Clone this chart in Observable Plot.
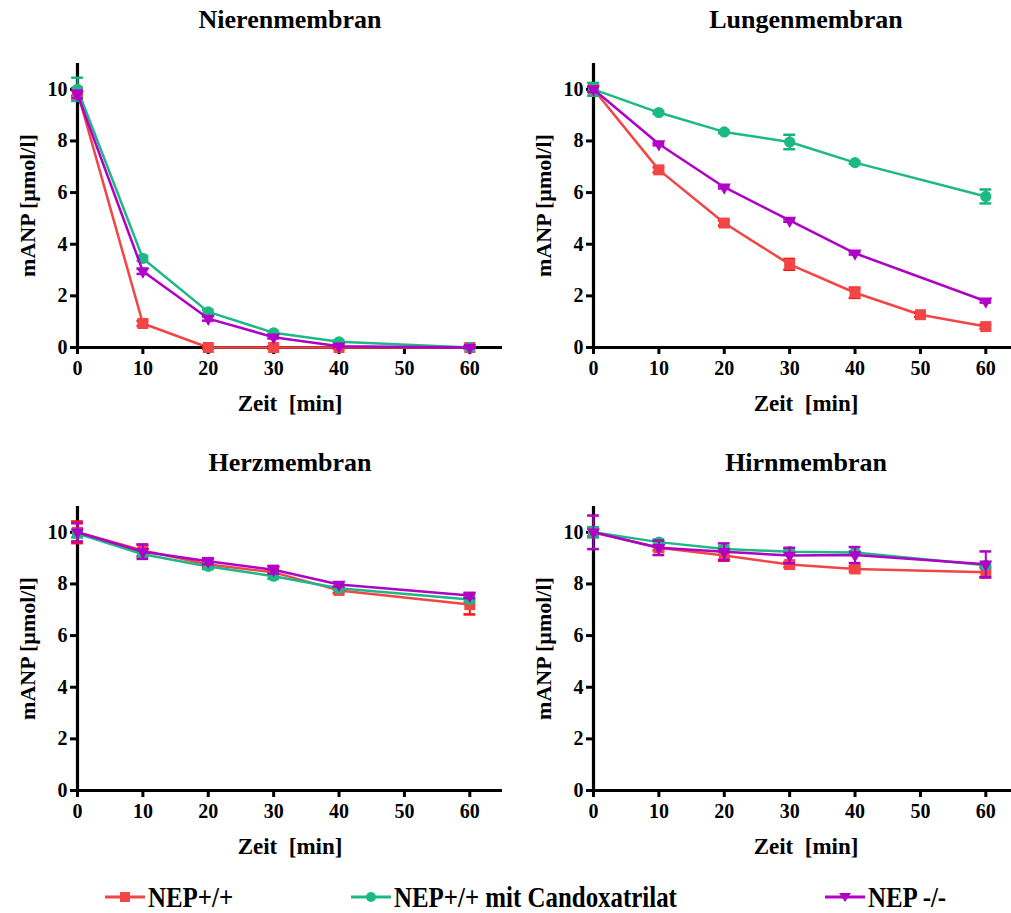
<!DOCTYPE html>
<html>
<head>
<meta charset="utf-8">
<script src="https://cdn.jsdelivr.net/npm/d3@7"></script>
<script src="https://cdn.jsdelivr.net/npm/@observablehq/plot@0.6"></script>
<style>
  body { margin: 0; background: white; overflow: hidden; }
  #root { position: relative; width: 1011px; height: 913px; overflow: hidden; background: white; }
  .panel { position: absolute; width: 505px; height: 430px; }
  .panel svg { max-width: none !important; width: 505px !important; height: 430px !important; }
  .legend { position: absolute; top: 882px; left: 0; width: 1011px; height: 30px;
            font-family: "Liberation Serif", serif; font-weight: bold; font-size: 30px; line-height: 30px; color: black; }
  .item { position: absolute; top: 0; display: flex; align-items: center; height: 30px; }
  .item svg { margin-right: 3px; flex: none; }
  .item span { display: inline-block; transform: scaleX(0.83); transform-origin: left center; white-space: nowrap; }
</style>
</head>
<body>
<div id="root"></div>
<script>
// ---------- data ----------
const times = [0, 10, 20, 30, 40, 50, 60];
const seriesNames = ["NEP+/+", "NEP+/+ mit Candoxatrilat", "NEP -/-"];
const seriesColors = ["#f24545", "#1db985", "#b000c6"];
const capColors = ["#ff1010", "#14b47c", "#b000c6"];
const seriesSymbols = ["square", "circle", "triangle"];
const panelTitles = ["Nierenmembran", "Lungenmembran", "Herzmembran", "Hirnmembran"];
const xTicks = [0, 10, 20, 30, 40, 50, 60];
const yTicks = [0, 2, 4, 6, 8, 10];
const xLabel = "Zeit  [min]";
const yLabel = "mANP [µmol/l]";

// Nierenmembran
const niereWT      = [9.9, 0.93, 0.0, 0.0, 0.0, null, 0.0];
const niereWTErr   = [0.15, 0.1, 0.05, 0.05, 0.05, null, 0.05];
const niereCand    = [10.0, 3.45, 1.38, 0.57, 0.22, null, 0.0];
const niereCandErr = [0.45, 0.1, 0.08, 0.05, 0.05, null, 0.02];
const niereKO      = [9.8, 2.95, 1.12, 0.4, 0.05, null, 0.0];
const niereKOErr   = [0.15, 0.1, 0.08, 0.05, 0.03, null, 0.02];

// Lungenmembran
const lungeWT      = [10.0, 6.88, 4.82, 3.22, 2.12, 1.27, 0.81];
const lungeWTErr   = [0.1, 0.1, 0.1, 0.21, 0.2, 0.08, 0.08];
const lungeCand    = [10.0, 9.1, 8.35, 7.96, 7.16, null, 5.85];
const lungeCandErr = [0.25, 0.05, 0.05, 0.28, 0.05, null, 0.27];
const lungeKO      = [10.0, 7.88, 6.21, 4.92, 3.65, null, 1.79];
const lungeKOErr   = [0.1, 0.05, 0.05, 0.05, 0.05, null, 0.05];

// Herzmembran
const herzWT      = [10.0, 9.3, 8.75, 8.45, 7.75, null, 7.2];
const herzWTErr   = [0.42, 0.22, 0.1, 0.1, 0.1, null, 0.38];
const herzCand    = [9.95, 9.15, 8.68, 8.3, 7.83, null, 7.4];
const herzCandErr = [0.15, 0.1, 0.1, 0.1, 0.05, null, 0.1];
const herzKO      = [10.0, 9.25, 8.88, 8.55, 7.98, null, 7.55];
const herzKOErr   = [0.35, 0.28, 0.12, 0.15, 0.08, null, 0.1];

// Hirnmembran
const hirnWT      = [10.0, 9.4, 9.1, 8.75, 8.58, null, 8.45];
const hirnWTErr   = [0.15, 0.1, 0.2, 0.1, 0.1, null, 0.2];
const hirnCand    = [10.0, 9.62, 9.35, 9.25, 9.22, null, 8.72];
const hirnCandErr = [0.2, 0.1, 0.1, 0.1, 0.05, null, 0.1];
const hirnKO      = [10.0, 9.4, 9.25, 9.1, 9.12, null, 8.76];
const hirnKOErr   = [0.65, 0.28, 0.32, 0.3, 0.31, null, 0.5];

const panelData = [
  [[niereWT, niereWTErr], [niereCand, niereCandErr], [niereKO, niereKOErr]],
  [[lungeWT, lungeWTErr], [lungeCand, lungeCandErr], [lungeKO, lungeKOErr]],
  [[herzWT, herzWTErr], [herzCand, herzCandErr], [herzKO, herzKOErr]],
  [[hirnWT, hirnWTErr], [hirnCand, hirnCandErr], [hirnKO, hirnKOErr]]
];

const panelPos = [[0, 0], [516, 0], [0, 443], [516, 443]];

// ---------- drawing ----------
const root = document.getElementById("root");
const font = "Liberation Serif";

panelTitles.forEach((title, p) => {
  const marks = [];
  // axis lines and tick marks
  marks.push(Plot.ruleY([0], {x1: 0, x2: 65, stroke: "black", strokeWidth: 3.2}));
  marks.push(Plot.ruleX([0], {y1: 0, y2: 11, stroke: "black", strokeWidth: 3.2}));
  marks.push(Plot.axisX(xTicks, {tickSize: 7, strokeWidth: 3, tickFormat: () => "", label: null}));
  marks.push(Plot.axisY(yTicks, {tickSize: 7, strokeWidth: 3, tickFormat: () => "", label: null}));
  // tick labels
  marks.push(Plot.text(xTicks, {x: d => d, frameAnchor: "bottom", lineAnchor: "middle", textAnchor: "middle",
    dy: 21, fontSize: 20, fontWeight: "bold", fontFamily: font, fill: "black"}));
  marks.push(Plot.text(yTicks, {y: d => d, frameAnchor: "left", lineAnchor: "middle", textAnchor: "end",
    dx: -10, fontSize: 20, fontWeight: "bold", fontFamily: font, fill: "black"}));

  seriesNames.forEach((name, s) => {
    const [vals, errs] = panelData[p][s];
    const rows = times.map((t, i) => ({t, v: vals[i], e: errs[i], series: name}))
      .filter(d => d.v != null);
    marks.push(Plot.line(rows, {x: "t", y: "v", stroke: seriesColors[s], strokeWidth: 2.5}));
    marks.push(Plot.ruleX(rows, {x: "t", y1: d => d.v - d.e, y2: d => d.v + d.e,
      stroke: capColors[s], strokeWidth: 2}));
    marks.push(Plot.ruleY(rows, {y: d => d.v + d.e, x1: d => d.t - 0.9, x2: d => d.t + 0.9,
      stroke: capColors[s], strokeWidth: 2.5}));
    marks.push(Plot.ruleY(rows, {y: d => d.v - d.e, x1: d => d.t - 0.9, x2: d => d.t + 0.9,
      stroke: capColors[s], strokeWidth: 2.5}));
    const r = seriesSymbols[s] === "square" ? 6.2 : seriesSymbols[s] === "circle" ? 5.6 : 4.8;
    marks.push(Plot.dot(rows, {x: "t", y: "v", symbol: seriesSymbols[s], r,
      fill: seriesColors[s], stroke: "none", rotate: seriesSymbols[s] === "triangle" ? 180 : 0}));
  });

  // title and axis labels
  marks.push(Plot.text([title], {frameAnchor: "top", lineAnchor: "middle", textAnchor: "middle", dy: -44,
    fontSize: 26, fontWeight: "bold", fontFamily: font, fill: "black"}));
  marks.push(Plot.text([xLabel], {frameAnchor: "bottom", lineAnchor: "middle", textAnchor: "middle", dy: 56,
    fontSize: 23, fontWeight: "bold", fontFamily: font, fill: "black"}));
  marks.push(Plot.text([yLabel], {frameAnchor: "left", lineAnchor: "middle", textAnchor: "middle",
    rotate: -90, dx: -50, fontSize: 22, fontWeight: "bold", fontFamily: font, fill: "black"}));

  const chart = Plot.plot({
    width: 505,
    height: 430,
    marginLeft: 77,
    marginRight: 3,
    marginTop: 63,
    marginBottom: 83,
    x: {domain: [0, 65]},
    y: {domain: [0, 11]},
    style: {fontFamily: font, fontWeight: "bold", fontSize: "17px", color: "black",
            background: "white", overflow: "visible"},
    marks
  });
  const div = document.createElement("div");
  div.className = "panel";
  div.style.left = panelPos[p][0] + "px";
  div.style.top = panelPos[p][1] + "px";
  div.appendChild(chart);
  root.appendChild(div);
});

// legend
const legendLeft = [105, 351, 825];
const legend = document.createElement("div");
legend.className = "legend";
seriesNames.forEach((name, s) => {
  const item = document.createElement("div");
  item.className = "item";
  item.style.left = legendLeft[s] + "px";
  const sym = seriesSymbols[s] === "square"
    ? `<rect x="15" y="5" width="10" height="10" fill="${seriesColors[s]}"/>`
    : seriesSymbols[s] === "circle"
    ? `<circle cx="20" cy="10" r="5" fill="${seriesColors[s]}"/>`
    : `<path d="M14,6 L26,6 L20,15 Z" fill="${seriesColors[s]}"/>`;
  item.innerHTML = `<svg width="40" height="20"><line x1="0" x2="40" y1="10" y2="10" stroke="${seriesColors[s]}" stroke-width="3"/>${sym}</svg><span>${name}</span>`;
  legend.appendChild(item);
});
root.appendChild(legend);
</script>
</body>
</html>
